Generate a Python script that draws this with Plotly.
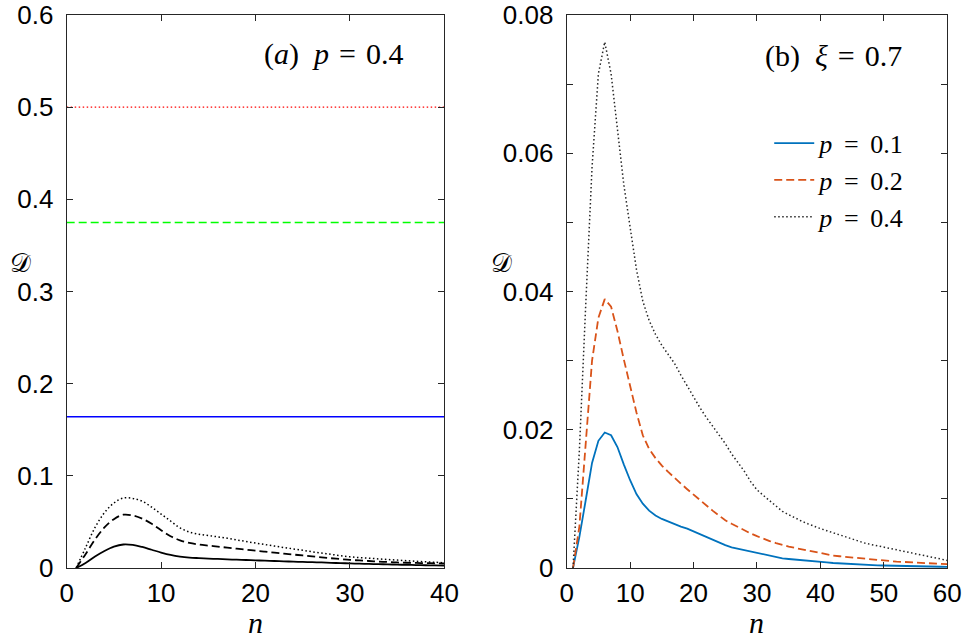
import plotly.graph_objects as go

# ---------------- data ----------------
n_left = list(range(1, 41))
left_solid = [0, 0.0055, 0.0125, 0.0185, 0.0232, 0.0255, 0.0250, 0.0228, 0.0198, 0.0168,
              0.0142, 0.0124, 0.0113, 0.0107, 0.0102, 0.0098, 0.0094, 0.0090, 0.0087, 0.0083,
              0.0079, 0.0076, 0.0072, 0.0069, 0.0066, 0.0063, 0.0060, 0.0056, 0.0053, 0.0050,
              0.0047, 0.0044, 0.0042, 0.0039, 0.0037, 0.0034, 0.0032, 0.0030, 0.0028, 0.0026]
left_dashed = [0, 0.015, 0.031, 0.044, 0.053, 0.0578, 0.0570, 0.0535, 0.048, 0.041,
               0.0345, 0.0300, 0.0272, 0.0255, 0.0243, 0.0232, 0.0221, 0.0210, 0.0199, 0.0188,
               0.0177, 0.0166, 0.0156, 0.0146, 0.0136, 0.0126, 0.0116, 0.0106, 0.0097, 0.0088,
               0.0082, 0.0076, 0.0070, 0.0065, 0.0060, 0.0057, 0.0055, 0.0053, 0.0051, 0.0049]
left_dotted = [0, 0.022, 0.044, 0.060, 0.0705, 0.0760, 0.0755, 0.0725, 0.066, 0.0585,
               0.051, 0.0435, 0.0390, 0.0367, 0.0352, 0.0338, 0.0323, 0.0305, 0.0288, 0.0270,
               0.0255, 0.0238, 0.0222, 0.0207, 0.0192, 0.0176, 0.0162, 0.0148, 0.0134, 0.0121,
               0.0113, 0.0106, 0.0099, 0.0092, 0.0086, 0.0079, 0.0073, 0.0067, 0.0062, 0.0057]
left_hlines_x = [0, 40]
hline_red = 0.5
hline_green = 0.375
hline_blue = 0.164

n_right = list(range(1, 61))
p01 = [0, 0.0045, 0.0098, 0.0152, 0.0184, 0.0196, 0.0192, 0.0175, 0.0150, 0.0127,
       0.0107, 0.0093, 0.0083, 0.0076, 0.0071, 0.0067, 0.0063, 0.0060, 0.0057, 0.0053,
       0.0049, 0.0045, 0.0040, 0.0036, 0.0033, 0.0030, 0.0028, 0.0025, 0.0023, 0.0021,
       0.0019, 0.0017, 0.0016, 0.0014, 0.0013, 0.0012, 0.0011, 0.0010, 0.0009, 0.00085,
       0.0008, 0.00072, 0.00066, 0.0006, 0.00055, 0.0005, 0.00046, 0.00042, 0.00039, 0.00036,
       0.00033, 0.0003, 0.00028, 0.00026, 0.00024, 0.00022, 0.0002, 0.00019, 0.00018, 0.00017]
p02 = [0, 0.006, 0.018, 0.030, 0.0362, 0.0389, 0.0378, 0.0343, 0.0302, 0.0262,
       0.0225, 0.0192, 0.0172, 0.0159, 0.0148, 0.0139, 0.0130, 0.0122, 0.0114, 0.0106,
       0.0098, 0.0090, 0.0083, 0.0076, 0.0069, 0.0064, 0.0059, 0.0054, 0.0050, 0.0046,
       0.0042, 0.0039, 0.0036, 0.0033, 0.0031, 0.0029, 0.0027, 0.0025, 0.0023, 0.0021,
       0.0020, 0.0018, 0.0017, 0.0016, 0.0015, 0.0014, 0.0013, 0.0012, 0.0011, 0.00105,
       0.0010, 0.00093, 0.00087, 0.00081, 0.00076, 0.00071, 0.00067, 0.00063, 0.0006, 0.00057]
p04 = [0, 0.017, 0.038, 0.058, 0.0715, 0.0761, 0.0715, 0.0637, 0.0555, 0.0493,
       0.0432, 0.0386, 0.0358, 0.0338, 0.0322, 0.0309, 0.0296, 0.0279, 0.0263, 0.0248,
       0.0232, 0.0218, 0.0205, 0.0192, 0.0180, 0.0165, 0.0152, 0.0140, 0.0125, 0.0113,
       0.0105, 0.0097, 0.0090, 0.0082, 0.0077, 0.0072, 0.0068, 0.0064, 0.0060, 0.0057,
       0.0054, 0.0051, 0.0047, 0.0044, 0.0041, 0.0038, 0.0036, 0.0034, 0.0032, 0.0030,
       0.0028, 0.0026, 0.0024, 0.0022, 0.0020, 0.0018, 0.0016, 0.0014, 0.0012, 0.0011]

left_xticks = [0, 10, 20, 30, 40]
left_yticks = [0, 0.1, 0.2, 0.3, 0.4, 0.5, 0.6]
left_ytext = ["0", "0.1", "0.2", "0.3", "0.4", "0.5", "0.6"]
right_xticks = [0, 10, 20, 30, 40, 50, 60]
right_yticks = [0, 0.01, 0.02, 0.03, 0.04, 0.05, 0.06, 0.07, 0.08]
right_ytext = ["0", "", "0.02", "", "0.04", "", "0.06", "", "0.08"]

# ---------------- figure ----------------
SERIF = "Liberation Serif"
SANS = "Liberation Sans"
DOT = "1.5px,2.5px"
DASH = "8px,4px"
SP = "\u00a0"
GAP = SP + "\u2009"
EQ = GAP + "=" + GAP
EQA = SP + "\u200a" + "=" + SP + "\u200a"

fig = go.Figure()

# left panel
fig.add_trace(go.Scatter(x=left_hlines_x, y=[hline_red] * 2, mode="lines",
                         line=dict(color="#ff0000", width=1.3, dash=DOT),
                         xaxis="x", yaxis="y", showlegend=False))
fig.add_trace(go.Scatter(x=left_hlines_x, y=[hline_green] * 2, mode="lines",
                         line=dict(color="#00ff00", width=1.5, dash=DASH),
                         xaxis="x", yaxis="y", showlegend=False))
fig.add_trace(go.Scatter(x=left_hlines_x, y=[hline_blue] * 2, mode="lines",
                         line=dict(color="#0000ff", width=1.5),
                         xaxis="x", yaxis="y", showlegend=False))
fig.add_trace(go.Scatter(x=n_left, y=left_solid, mode="lines", line_shape="spline",
                         line=dict(color="black", width=1.8),
                         xaxis="x", yaxis="y", showlegend=False))
fig.add_trace(go.Scatter(x=n_left, y=left_dashed, mode="lines", line_shape="spline",
                         line=dict(color="black", width=1.8, dash=DASH),
                         xaxis="x", yaxis="y", showlegend=False))
fig.add_trace(go.Scatter(x=n_left, y=left_dotted, mode="lines", line_shape="spline",
                         line=dict(color="black", width=1.5, dash=DOT),
                         xaxis="x", yaxis="y", showlegend=False))

# right panel
fig.add_trace(go.Scatter(x=n_right, y=p01, mode="lines", name="<i>p</i>" + EQ + "0.1",
                         line=dict(color="#0072BD", width=1.8), legendgroup="g1",
                         xaxis="x2", yaxis="y2"))
fig.add_trace(go.Scatter(x=n_right, y=p02, mode="lines", name="<i>p</i>" + EQ + "0.2",
                         line=dict(color="#D95319", width=1.8, dash=DASH), legendgroup="g2",
                         xaxis="x2", yaxis="y2"))
fig.add_trace(go.Scatter(x=n_right, y=p04, mode="lines", name="<i>p</i>" + EQ + "0.4",
                         line=dict(color="#262626", width=1.5, dash=DOT), legendgroup="g3",
                         xaxis="x2", yaxis="y2"))

W, H = 975, 638
T, B = 8, 70
PH = H - T - B


def py(y):
    return 1 - (y - T) / PH


axis_common = dict(showline=True, linecolor="#262626", linewidth=1, mirror="ticks",
                   ticks="inside", ticklen=6, tickcolor="#262626", showgrid=False,
                   zeroline=False, ticklabeloverflow="allow",
                   tickfont=dict(family=SANS, size=26, color="black"))

fig.update_layout(
    width=W, height=H,
    margin=dict(l=0, r=0, t=T, b=B),
    plot_bgcolor="white", paper_bgcolor="white",
    xaxis=dict(domain=[61 / W, 447 / W], range=[0, 40], tickvals=left_xticks,
               anchor="y", ticklabelstandoff=2, **axis_common),
    yaxis=dict(domain=[0, 1], range=[0, 0.6], tickvals=left_yticks, ticktext=left_ytext,
               anchor="x", ticklabelstandoff=7, **axis_common),
    xaxis2=dict(domain=[572 / W, 961 / W], range=[0, 60], tickvals=right_xticks,
                anchor="y2", ticklabelstandoff=2, **axis_common),
    yaxis2=dict(domain=[0, 1], range=[0, 0.08], tickvals=right_yticks, ticktext=right_ytext,
                anchor="x2", ticklabelstandoff=7, **axis_common),
    legend=dict(x=779 / W, y=py(114), xanchor="left", yanchor="top",
                font=dict(family=SERIF, size=26, color="black"),
                bgcolor="rgba(0,0,0,0)", tracegroupgap=0, itemwidth=40),
    showlegend=True,
)

ann = [
    dict(text="(<i>a</i>)" + SP * 2 + "<i>p</i>" + EQA + "0.4", x=334, y=47, size=30),
    dict(text="(b)" + SP * 2 + "<i>ξ</i>" + EQA + "0.7", x=845, y=50, size=30),
    dict(text="<i>n</i>", x=254, y=623, size=30),
    dict(text="<i>n</i>", x=766, y=623, size=30),
    dict(text="𝒟", x=14, y=260, size=26),
    dict(text="𝒟", x=505, y=260, size=26),
]
for a in ann:
    fig.add_annotation(text=a["text"], xref="paper", yref="paper",
                       x=a["x"] / W, y=py(a["y"]),
                       xanchor="center", yanchor="middle", showarrow=False,
                       font=dict(family=SERIF, size=a["size"], color="black"))

fig.write_html("out.html", config={"displayModeBar": False},
               post_script="document.body.style.margin='0';")
